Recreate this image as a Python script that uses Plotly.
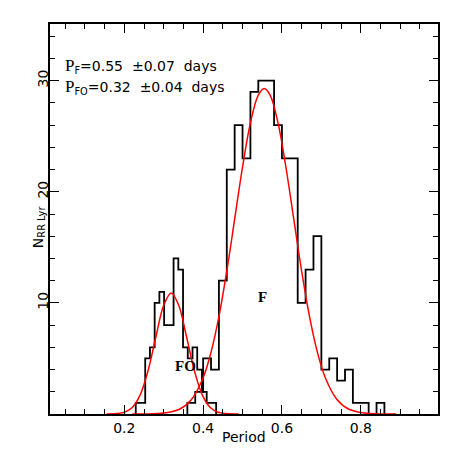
import plotly.graph_objects as go

# FO histogram (bin edges and counts)
fo_edges = [0.229, 0.241, 0.253, 0.265, 0.277, 0.289, 0.301, 0.313, 0.325,
            0.337, 0.349, 0.361, 0.373, 0.385, 0.397, 0.409, 0.421, 0.433]
fo_counts = [1, 1, 5, 6, 10, 11, 8, 8, 14, 13, 6, 5, 6, 4, 2, 1, 1]

# F histogram (bin edges and counts)
f_edges = [0.36, 0.38, 0.40, 0.42, 0.44, 0.46, 0.48, 0.50, 0.52, 0.54, 0.56,
           0.58, 0.60, 0.62, 0.64, 0.66, 0.68, 0.70, 0.72, 0.74, 0.76, 0.78,
           0.80, 0.82, 0.84, 0.86]
f_counts = [1, 2, 5, 4, 12, 22, 26, 23, 29, 30, 30, 26, 23, 23, 10, 13, 16,
            4, 5, 3, 4, 1, 1, 0, 1]

# gaussian fit curves
fo_fit_x = [0.155, 0.18, 0.20, 0.22, 0.24, 0.26, 0.28, 0.30, 0.319, 0.338,
            0.358, 0.378, 0.398, 0.418, 0.438, 0.458, 0.49]
fo_fit_y = [0.0, 0.04, 0.16, 0.59, 1.70, 3.87, 6.93, 9.79, 10.9, 9.79,
            6.93, 3.87, 1.70, 0.59, 0.16, 0.04, 0.0]

f_fit_x = [0.22, 0.26, 0.30, 0.34, 0.37, 0.40, 0.42, 0.44, 0.46, 0.48, 0.50,
           0.52, 0.54, 0.555, 0.57, 0.59, 0.61, 0.63, 0.65, 0.67, 0.69, 0.71,
           0.74, 0.77, 0.81, 0.85, 0.89]
f_fit_y = [0.0, 0.01, 0.08, 0.43, 1.29, 3.27, 5.55, 8.76, 12.85, 17.53, 22.23,
           26.2, 28.7, 29.3, 28.7, 26.2, 22.23, 17.53, 12.85, 8.76, 5.55, 3.27,
           1.29, 0.43, 0.08, 0.01, 0.0]

x_ticks = [0.2, 0.4, 0.6, 0.8]
y_ticks = [10, 20, 30]


def step_outline(edges, counts):
    xs = [edges[0]] + list(edges)
    ys = [0] + list(counts) + [0]
    return xs, ys


fig = go.Figure()

for edges, counts in [(fo_edges, fo_counts), (f_edges, f_counts)]:
    xs, ys = step_outline(edges, counts)
    fig.add_trace(go.Scatter(x=xs, y=ys, mode="lines", line_shape="hv",
                             line=dict(color="black", width=1.8),
                             hoverinfo="skip", showlegend=False))

for fx, fy in [(fo_fit_x, fo_fit_y), (f_fit_x, f_fit_y)]:
    fig.add_trace(go.Scatter(x=fx, y=fy, mode="lines", line_shape="spline",
                             line=dict(color="#ff0000", width=1.5),
                             hoverinfo="skip", showlegend=False))

sans = "DejaVu Sans, Verdana, sans-serif"
serif = "Liberation Serif, Times New Roman, serif"
p_span = "<span style='font-family:Liberation Serif;font-size:17px'>P</span>"

fig.add_annotation(x=0.0335, y=0.892, xref="paper", yref="paper",
                   xanchor="left", yanchor="middle", showarrow=False,
                   text=p_span + "<sub>F</sub>=0.55  ±0.07  days",
                   font=dict(family=sans, size=14, color="black"))
fig.add_annotation(x=0.0335, y=0.838, xref="paper", yref="paper",
                   xanchor="left", yanchor="middle", showarrow=False,
                   text=p_span + "<sub>FO</sub>=0.32  ±0.04  days",
                   font=dict(family=sans, size=14, color="black"))
fig.add_annotation(x=0.354, y=4.3, text="<b>FO</b>", showarrow=False,
                   xanchor="center", yanchor="middle",
                   font=dict(family=serif, size=15, color="black"))
fig.add_annotation(x=0.55, y=10.5, text="<b>F</b>", showarrow=False,
                   xanchor="center", yanchor="middle",
                   font=dict(family=serif, size=15, color="black"))

# axis titles
fig.add_annotation(x=0.5, y=-0.058, xref="paper", yref="paper",
                   xanchor="center", yanchor="middle",
                   text="Period", showarrow=False,
                   font=dict(family=sans, size=14, color="black"))
fig.add_annotation(x=-0.03, y=0.48, xref="paper", yref="paper",
                   xanchor="center", yanchor="middle",
                   text="N<sub>RR Lyr</sub>", textangle=-90, showarrow=False,
                   font=dict(family=sans, size=14, color="black"))

axis_common = dict(showline=True, linecolor="black", linewidth=1.5,
                   mirror="allticks", ticks="inside", tickcolor="black",
                   tickwidth=1.2, ticklen=9, showgrid=False, zeroline=False,
                   tickfont=dict(family=sans, size=14, color="black"))

fig.update_layout(
    width=463, height=463,
    margin=dict(l=50, r=25, t=24, b=49),
    paper_bgcolor="white", plot_bgcolor="white",
    xaxis=dict(range=[0.0114, 0.996], tickvals=x_ticks,
               ticktext=[f"{v:.1f}" for v in x_ticks],
               minor=dict(dtick=0.05, tick0=0, ticks="inside", ticklen=5,
                          tickcolor="black", tickwidth=1.2),
               **axis_common),
    yaxis=dict(range=[0, 35.1], tickvals=y_ticks, tickangle=-90,
               ticklabelstandoff=-5,
               minor=dict(dtick=2, tick0=0, ticks="inside", ticklen=5,
                          tickcolor="black", tickwidth=1.2),
               **axis_common),
)

fig.write_html("out.html", config={"displayModeBar": False},
               post_script="document.body.style.margin='0';")
